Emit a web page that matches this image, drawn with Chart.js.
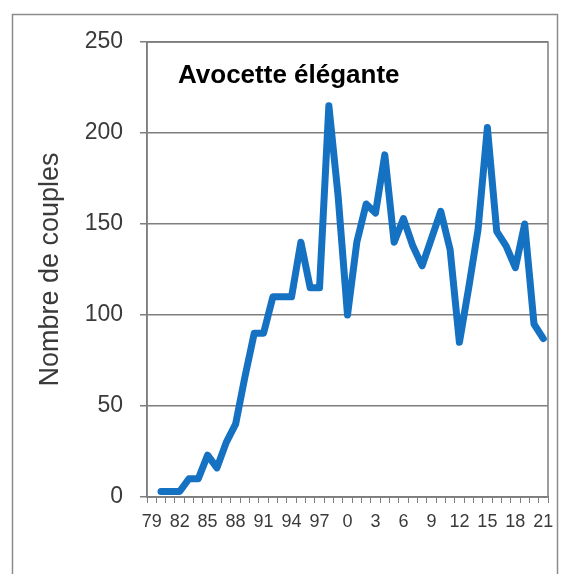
<!DOCTYPE html>
<html lang="fr">
<head>
    <meta charset="utf-8">
    <title>Avocette élégante</title>
    <style>
    body, html {
        margin: 0;
        background: #fff;
    }
    #wrap {
        width: 568px;
        height: 574px;
    }
    </style>
    <script src="https://cdn.jsdelivr.net/npm/chart.js"></script>
</head>
<body>
    <div id="wrap"><canvas id="chart" width="568" height="574"></canvas></div>

    <script type="text/javascript">
        // années 1979 -> 2021 (libellés Excel à 2 chiffres)
        var annees = ['79','80','81','82','83','84','85','86','87','88','89','90','91','92','93','94','95','96','97','98','99',
                      '0','1','2','3','4','5','6','7','8','9','10','11','12','13','14','15','16','17','18','19','20','21'];
        // nombre de couples (1979 sans donnée)
        var couples = [null, 3, 3, 3, 10, 10, 23, 16, 30, 40, 66, 90, 90, 110, 110, 110, 140, 115, 115, 215, 165,
                       100, 140, 161, 156, 188, 140, 153, 138, 127, 142, 157, 136, 85, 115, 147, 203, 146, 138, 126, 150, 95, 87];
        var yTicks = [0, 50, 100, 150, 200, 250];

        var titre = 'Avocette élégante';
        var titreAxeY = 'Nombre de couples';
        var gris = '#7e7e7e';
        var texte = '#3a3a3a';

        // cadre extérieur + bordure du graphique + titre dans la zone de tracé
        var decor = {
            id: 'decor',
            beforeDraw: function (chart) {
                var ctx = chart.ctx;
                ctx.save();
                ctx.strokeStyle = '#8c8c8c';
                ctx.lineWidth = 1.5;
                ctx.strokeRect(12.5, 14.5, 545, 600);
                ctx.restore();
            },
            beforeDatasetsDraw: function (chart) {
                var a = chart.chartArea, ctx = chart.ctx;
                ctx.save();
                ctx.strokeStyle = gris;
                ctx.lineWidth = 1.5;
                ctx.strokeRect(a.left, a.top, a.right - a.left, a.bottom - a.top);
                ctx.restore();
            },
            afterDraw: function (chart) {
                var a = chart.chartArea, ctx = chart.ctx;
                ctx.save();
                ctx.fillStyle = '#000';
                ctx.font = 'bold 26px "Liberation Sans", Arial, sans-serif';
                ctx.textBaseline = 'middle';
                ctx.fillText(titre, a.left + 31, 76);
                ctx.restore();
            }
        };

        var chart = new Chart(document.getElementById('chart').getContext('2d'), {
            type: 'line',
            data: {
                labels: annees,
                datasets: [{
                    label: titre,
                    data: couples,
                    borderColor: '#1571c1',
                    borderWidth: 7,
                    borderJoinStyle: 'round',
                    borderCapStyle: 'round',
                    pointRadius: 0,
                    tension: 0,
                    fill: false
                }]
            },
            plugins: [decor],
            options: {
                responsive: false,
                animation: false,
                layout: { padding: { left: 12, right: 20, top: 42, bottom: 0 } },
                plugins: {
                    legend: { display: false },
                    tooltip: { enabled: false }
                },
                scales: {
                    x: {
                        offset: true,
                        afterFit: function (s) { s.height = 77; },
                        grid: {
                            offset: true,
                            drawOnChartArea: false,
                            color: gris,
                            tickLength: 6,
                            lineWidth: 1
                        },
                        border: { color: gris, width: 1.5 },
                        ticks: {
                            autoSkip: false,
                            maxRotation: 0,
                            padding: 8,
                            color: texte,
                            font: { family: '"Liberation Sans", Arial, sans-serif', size: 18 },
                            callback: function (v, i) { return i % 3 === 0 ? annees[i] : ''; }
                        }
                    },
                    y: {
                        min: 0,
                        max: 250,
                        afterFit: function (s) { s.width = 135; },
                        afterBuildTicks: function (s) { s.ticks = yTicks.map(function (v) { return { value: v }; }); },
                        grid: { color: gris, lineWidth: 1.5, tickLength: 7 },
                        border: { color: gris, width: 1.5 },
                        ticks: {
                            padding: 17,
                            color: texte,
                            font: { family: '"Liberation Sans", Arial, sans-serif', size: 23 }
                        },
                        title: {
                            display: true,
                            text: titreAxeY,
                            color: texte,
                            padding: { top: 22, bottom: 0 },
                            font: { family: '"Liberation Sans", Arial, sans-serif', size: 27 }
                        }
                    }
                }
            }
        });
    </script>
</body>
</html>
